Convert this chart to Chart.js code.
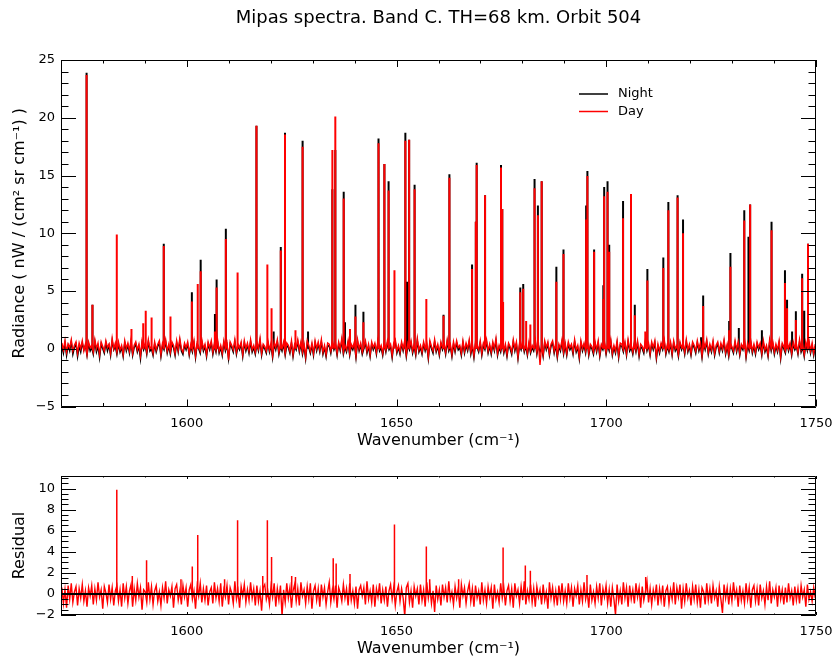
<!DOCTYPE html>
<html>
<head>
<meta charset="utf-8">
<script src="https://cdn.jsdelivr.net/npm/chart.js@4.4.1/dist/chart.umd.min.js"></script>
<style>
  html, body { margin: 0; padding: 0; background: #fff; }
  #wrap { position: relative; width: 832px; height: 660px; }
  canvas { position: absolute; left: 0; }
  #specCanvas { top: 0; }
  #resCanvas { top: 460px; }
</style>
</head>
<body>
<div id="wrap">
  <canvas id="specCanvas" width="832" height="460"></canvas>
  <canvas id="resCanvas" width="832" height="200"></canvas>
</div>
<script>
// Axis ranges and ticks
const xMin = 1570, xMax = 1750;
const xMajorTicks = [1600, 1650, 1700, 1750];
const specYTicks = [-5, 0, 5, 10, 15, 20, 25];
const resYTicks = [-2, 0, 2, 4, 6, 8, 10];

// Baseline noise, one value every 0.375 cm-1 starting at 1570.2
const noiseStart = 1570.2, noiseStep = 0.375;
const nightNoise = [
  0.2,-0.4,0.5,-0.6,0.3,-0.2,0.6,-0.5,0.1,0.4,-0.7,0.2,-0.3,0.5,-0.1,0.3,-0.6,0.4,-0.2,0.1,
  -0.5,0.6,-0.3,0.2,-0.8,0.4,0.0,-0.4,0.5,-0.2,0.3,-0.6,0.7,-0.1,0.2,-0.5,0.4,-0.3,0.1,-0.7,
  0.5,-0.2,0.3,-0.4,0.6,-0.6,0.1,0.4,-0.3,0.2,-0.9,0.5,-0.1,0.3,-0.5,0.6,-0.2,0.0,-0.6,0.4,
  -0.3,0.2,0.5,-0.7,0.3,-0.1,0.6,-0.4,0.2,-0.5,0.4,0.1,-0.6,0.5,-0.3,0.7,-0.2,-0.5,0.3,-0.1,
  0.4,-0.6,0.2,-0.3,0.5,-0.8,0.3,0.0,-0.4,0.6,-0.2,0.2,-0.7,0.4,-0.1,0.5,-0.5,0.3,-0.3,0.6,
  -0.4,0.1,-0.6,0.5,-0.2,0.3,-0.9,0.4,0.1,-0.3,0.6,-0.5,0.2,-0.1,0.4,-0.7,0.5,-0.2,0.3,-0.4,
  0.6,-0.3,0.1,-0.5,0.4,-0.2,0.7,-0.6,0.2,0.0,-0.4,0.5,-0.3,0.3,-0.8,0.4,-0.1,0.6,-0.5,0.2,
  -0.2,0.4,-0.6,0.3,0.1,-0.4,0.5,-0.7,0.2,-0.1,0.6,-0.3,0.4,-0.5,0.2,-0.9,0.5,0.1,-0.4,0.3,
  -0.6,0.5,-0.2,0.4,-0.3,0.6,-0.5,0.1,-0.7,0.3,0.2,-0.4,0.5,-0.1,0.3,-0.6,0.4,-0.2,0.7,-0.5,
  0.1,-0.3,0.5,-0.6,0.2,-0.1,0.4,-0.8,0.6,-0.2,0.3,-0.5,0.0,0.5,-0.4,0.2,-0.7,0.4,-0.1,0.3,
  -0.5,0.6,-0.2,0.1,-0.6,0.4,-0.3,0.5,-0.1,0.2,-0.8,0.3,0.6,-0.4,0.1,-0.5,0.4,-0.2,0.5,-0.7,
  0.3,-0.1,0.5,-0.4,0.2,-0.6,0.7,-0.3,0.1,-0.5,0.4,-0.2,0.3,-0.9,0.5,0.0,-0.4,0.6,-0.3,0.2,
  -0.6,0.4,-0.1,0.3,-0.5,0.6,-0.2,0.2,-0.7,0.4,-0.3,0.5,-0.1,0.1,-0.6,0.5,-0.4,0.3,-0.2,0.6,
  -0.5,0.2,-0.8,0.4,0.1,-0.3,0.5,-0.6,0.3,-0.1,0.6,-0.4,0.2,-0.5,0.4,-0.2,0.7,-0.6,0.1,-0.3,
  0.5,-0.4,0.2,-0.7,0.3,0.0,-0.5,0.6,-0.2,0.4,-0.9,0.3,-0.1,0.5,-0.3,0.2,-0.6,0.4,-0.4,0.1,
  -0.2,0.6,-0.5,0.3,-0.3,0.1,-0.7,0.5,-0.1,0.4,-0.6,0.2,0.5,-0.4,0.3,-0.8,0.2,-0.2,0.6,-0.5,
  0.3,-0.6,0.4,-0.1,0.2,-0.5,0.6,-0.3,0.1,-0.9,0.5,-0.2,0.3,-0.4,0.7,-0.6,0.2,0.0,-0.5,0.4,
  -0.3,0.5,-0.7,0.2,-0.1,0.4,-0.5,0.3,-0.2,0.6,-0.6,0.1,-0.4,0.5,-0.8,0.3,0.2,-0.3,0.4,-0.6,
  0.6,-0.2,0.1,-0.5,0.4,-0.3,0.5,-0.7,0.2,0.0,-0.4,0.6,-0.2,0.3,-0.6,0.4,-0.1,0.5,-0.9,0.2,
  -0.4,0.3,-0.1,0.6,-0.5,0.2,-0.3,0.4,-0.6,0.5,-0.2,0.1,-0.7,0.4,-0.1,0.3,-0.5,0.6,-0.3,0.2,
  -0.6,0.4,0.1,-0.4,0.5,-0.2,0.3,-0.8,0.4,-0.1,0.6,-0.5,0.2,-0.3,0.5,-0.6,0.1,0.4,-0.4,0.3,
  -0.2,0.6,-0.5,0.2,-0.7,0.3,0.0,-0.4,0.5,-0.3,0.4,-0.6,0.2,-0.1,0.6,-0.8,0.3,-0.2,0.5,-0.4,
  0.2,-0.5,0.4,-0.1,0.3,-0.6,0.5,-0.3,0.1,-0.7,0.6,-0.2,0.4,-0.5,0.2,-0.3,0.5,-0.9,0.3,0.0,
  -0.4,0.5,-0.2,0.3,-0.6,0.4,-0.1,0.2,-0.5,0.6,-0.3,0.1,-0.7,0.4,-0.2,0.5,-0.4,0.3,-0.6,0.2
];
const dayNoise = [
  0.5,-0.1,0.7,-0.3,0.4,0.1,0.8,-0.2,0.3,0.6,-0.4,0.5,0.0,0.7,-0.2,0.4,-0.5,0.6,0.1,0.3,
  -0.3,0.8,0.0,0.5,-0.5,0.6,0.2,-0.2,0.7,0.1,0.4,-0.4,0.9,0.0,0.5,-0.3,0.6,-0.1,0.3,-0.5,
  0.7,0.0,0.5,-0.2,0.8,-0.4,0.3,0.6,-0.1,0.4,-0.6,0.7,0.1,0.5,-0.3,0.8,0.0,0.2,-0.4,0.6,
  -0.1,0.4,0.7,-0.5,0.5,0.1,0.8,-0.2,0.4,-0.3,0.6,0.3,-0.4,0.7,-0.1,0.9,0.0,-0.3,0.5,0.1,
  0.6,-0.4,0.4,-0.1,0.7,-0.6,0.5,0.2,-0.2,0.8,0.0,0.4,-0.5,0.6,0.1,0.7,-0.3,0.5,-0.1,0.8,
  -0.2,0.3,-0.4,0.7,0.0,0.5,-1.0,0.6,0.3,-0.1,0.8,-0.3,0.4,0.1,0.6,-0.5,0.7,0.0,0.5,-0.2,
  0.8,-0.1,0.3,-0.3,0.6,0.0,0.9,-0.4,0.4,0.2,-0.2,0.7,-0.1,0.5,-0.6,0.6,0.1,0.8,-0.3,0.4,
  0.0,0.6,-0.4,0.5,0.3,-0.2,0.7,-0.5,0.4,0.1,0.8,-0.1,0.6,-0.3,0.4,-0.7,0.7,0.3,-0.2,0.5,
  -0.4,0.7,0.0,0.6,-0.1,0.8,-0.3,0.3,-0.5,0.5,0.4,-0.2,0.7,0.1,0.5,-0.4,0.6,0.0,0.9,-0.3,
  0.3,-0.1,0.7,-0.4,0.4,0.1,0.6,-0.6,0.8,0.0,0.5,-0.3,0.2,0.7,-0.2,0.4,-0.5,0.6,0.1,0.5,
  -0.3,0.8,0.0,0.3,-0.4,0.6,-0.1,0.7,0.1,0.4,-0.6,0.5,0.8,-0.2,0.3,-0.3,0.6,0.0,0.7,-0.5,
  0.5,0.1,0.7,-0.2,0.4,-0.4,0.9,-0.1,0.3,-0.3,0.6,0.0,0.5,-0.7,0.7,0.2,-0.2,0.8,-0.1,0.4,
  -0.4,0.6,0.1,0.5,-0.3,0.8,0.0,0.4,-0.5,0.6,-0.1,0.7,0.1,0.3,-0.4,0.7,-0.2,0.5,0.0,0.8,
  -0.3,0.4,-0.6,0.6,0.3,-0.1,0.7,-0.4,0.5,0.1,0.8,-0.2,0.4,-0.3,0.6,0.0,0.9,-0.4,0.3,-0.1,
  0.7,-0.2,0.4,-0.5,0.5,0.2,-0.3,0.8,0.0,0.6,-0.7,0.5,0.1,0.7,-0.1,0.4,-0.4,0.6,-0.2,0.3,
  0.0,0.8,-0.3,0.5,-1.4,0.3,-0.5,0.7,0.1,0.6,-0.4,0.4,0.7,-0.2,0.5,-0.6,0.4,0.0,0.8,-0.3,
  0.5,-0.4,0.6,0.1,0.4,-0.3,0.8,-0.1,0.3,-0.7,0.7,0.0,0.5,-0.2,0.9,-0.4,0.4,0.2,-0.3,0.6,
  -0.1,0.7,-0.5,0.4,0.1,0.6,-0.3,0.5,0.0,0.8,-0.4,0.3,-0.2,0.7,-0.6,0.5,0.4,-0.1,0.6,-0.4,
  0.8,0.0,0.3,-0.3,0.6,-0.1,0.7,-0.5,0.4,0.2,-0.2,0.8,0.0,0.5,-0.4,0.6,0.1,0.7,-0.7,0.4,
  -0.2,0.5,0.1,0.8,-0.3,0.4,-0.1,0.6,-0.4,0.7,0.0,0.3,-0.5,0.6,0.1,0.5,-0.3,0.8,-0.1,0.4,
  -0.4,0.6,0.3,-0.2,0.7,0.0,0.5,-0.6,0.6,0.1,0.8,-0.3,0.4,-0.1,0.7,-0.4,0.3,0.6,-0.2,0.5,
  0.0,0.8,-0.3,0.4,-0.5,0.5,0.2,-0.2,0.7,-0.1,0.6,-0.4,0.4,0.1,0.8,-0.6,0.5,0.0,0.7,-0.2,
  0.4,-0.3,0.6,0.1,0.5,-0.4,0.7,-0.1,0.3,-0.5,0.8,0.0,0.6,-0.3,0.4,-0.1,0.7,-0.7,0.5,0.2,
  -0.2,0.7,0.0,0.5,-0.4,0.6,0.1,0.4,-0.3,0.8,-0.1,0.3,-0.5,0.6,0.0,0.7,-0.2,0.5,-0.4,0.4
];
const residualNoise = [
  0.6,-0.9,0.4,-1.3,0.8,-0.5,1.0,-0.8,0.2,0.7,-1.1,0.5,-0.4,0.9,-0.7,0.3,-1.2,0.6,-0.2,0.8,
  -1.0,0.5,-0.6,1.1,-0.3,0.4,-1.4,0.7,0.1,-0.8,0.9,-0.5,0.6,-1.1,0.3,0.8,-0.7,0.4,-1.2,1.0,
  -0.4,0.7,-0.9,0.3,0.9,-1.2,0.5,-0.6,1.0,-0.3,0.6,-1.5,0.4,0.2,-0.8,1.1,-0.5,0.7,-1.0,0.3,
  0.8,-0.7,0.2,-1.1,0.6,-0.4,1.2,-0.9,0.4,-0.2,0.7,-1.3,0.5,0.9,-0.6,0.3,-1.0,0.8,-0.3,0.6,
  -1.2,0.4,0.9,-0.5,0.3,-1.4,0.7,-0.2,1.0,-0.8,0.5,-0.6,0.8,-1.1,0.2,0.6,-0.9,1.1,-0.4,0.5,
  -0.7,1.0,-1.2,0.4,-0.3,0.8,-1.0,0.6,0.1,-0.9,1.2,-0.5,0.3,-1.3,0.7,-0.2,0.9,-0.8,0.4,-0.6,
  1.1,-0.4,0.5,-1.1,0.8,-0.7,0.3,-1.6,0.6,0.9,-0.5,0.2,-1.0,0.7,-0.3,1.0,-1.2,0.5,-0.6,0.8,
  -2.1,0.4,-0.8,1.0,-0.4,0.6,-1.3,0.3,0.9,-0.7,0.5,-1.1,1.1,-0.2,0.4,-0.9,0.7,-0.5,1.0,-1.4,
  0.3,0.8,-0.6,0.5,-1.2,0.9,-0.3,0.6,-1.0,0.2,1.1,-0.8,0.4,-0.5,0.8,-1.3,0.6,0.1,-0.7,0.9,
  -0.4,0.5,-1.1,1.0,-0.6,0.3,-0.9,0.7,-1.4,0.4,0.8,-0.2,0.6,-1.0,1.2,-0.5,0.3,-0.8,0.9,-1.2,
  0.5,-0.3,1.0,-0.9,0.4,-0.6,0.7,-1.2,0.3,0.9,-0.5,0.6,-1.1,0.2,0.8,-0.7,0.5,-0.4,-2.1,0.6,
  1.0,-0.8,0.3,-1.3,0.7,-0.2,0.5,-1.0,0.9,-0.6,0.4,-1.2,1.1,-0.4,0.6,-0.9,0.3,-1.7,0.8,-0.5,
  0.4,-1.1,0.9,-0.3,0.6,-0.8,1.2,-0.5,0.2,-1.0,0.7,-0.4,0.5,-1.3,0.9,-0.2,0.6,-0.9,0.3,1.0,
  -0.7,0.5,-1.2,0.8,-0.4,0.3,-1.0,1.1,-0.6,0.4,-0.9,0.7,-0.3,0.6,-1.4,0.9,-0.5,0.2,-0.8,1.0,
  -0.4,0.6,-1.1,0.3,0.8,-0.7,0.5,-1.3,1.0,-0.2,0.4,-0.9,0.7,-0.6,1.2,-1.0,0.3,-0.5,0.9,-0.8,
  0.5,-1.2,0.7,-0.3,0.4,-1.0,0.9,-0.6,0.2,-1.4,1.1,-0.4,0.6,-0.8,0.3,-1.1,0.8,-0.5,1.0,-0.7,
  0.3,-0.9,1.0,-0.4,0.6,-1.2,0.5,-0.2,0.8,-1.0,0.4,-0.7,1.1,-0.5,0.3,-1.3,0.9,-0.6,0.2,-0.9,
  0.7,-0.4,1.0,-1.1,0.5,-0.3,0.8,-0.9,0.4,-1.2,0.6,-0.5,-2.0,0.9,-0.7,0.3,-1.0,1.1,-0.4,0.6,
  -1.2,0.8,-0.5,0.4,-0.9,1.0,-0.3,0.6,-1.3,0.7,-0.6,0.2,1.2,-0.8,0.5,-1.0,0.4,-0.4,0.9,-1.1,
  0.5,-0.6,0.8,-1.2,0.3,0.7,-0.9,0.4,-0.5,1.1,-1.0,0.6,-0.3,0.9,-1.4,0.5,-0.7,1.0,-0.4,0.3,
  -1.1,0.7,-0.5,0.9,-0.8,0.4,-1.3,0.6,0.2,-1.0,1.0,-0.6,0.5,-0.9,0.8,-0.4,0.3,-1.2,0.7,-0.5,
  -1.8,0.9,-0.4,0.6,-1.0,0.5,-0.7,1.1,-0.3,0.4,-1.2,0.8,-0.6,0.3,-0.9,1.0,-0.5,0.6,-1.3,0.4,
  0.8,-0.7,0.5,-1.1,0.9,-0.4,0.3,-1.0,0.7,-0.6,1.2,-0.9,0.4,-0.3,0.6,-1.2,0.8,-0.5,0.4,-1.0,
  0.6,-0.8,1.0,-0.4,0.3,-1.1,0.7,-0.6,0.5,-0.9,0.8,-0.3,0.4,-1.2,0.9,-0.5,0.2,-0.7,0.6,-0.4
];

// Emission lines: [wavenumber, peak radiance]
const nightLines = [
  [1576.1,23.9],[1577.5,3.8],[1594.5,9.1],[1601.2,4.9],[1603.3,7.7],[1606.7,3.0],[1607.1,6.0],
  [1609.3,10.4],[1616.6,19.3],[1620.7,1.5],[1622.4,8.8],[1623.4,18.7],[1627.6,18.0],[1628.9,1.5],
  [1634.7,13.8],[1635.4,17.2],[1637.4,13.6],[1637.7,2.3],[1640.2,3.8],[1642.1,3.2],[1645.7,18.2],
  [1647.1,16.0],[1648.1,14.5],[1652.1,18.7],[1652.5,5.8],[1653.0,18.1],[1654.3,14.2],[1661.2,2.95],
  [1662.6,15.1],[1668.0,7.3],[1668.9,11.0],[1669.1,16.1],[1671.1,13.3],[1674.9,15.9],[1675.2,12.1],
  [1679.5,5.3],[1680.2,5.6],[1682.9,14.7],[1683.7,12.4],[1684.6,14.5],[1688.1,7.1],[1689.8,8.6],
  [1695.2,12.4],[1695.5,15.4],[1697.1,8.6],[1699.3,5.5],[1699.5,14.0],[1700.3,14.5],[1700.7,9.0],
  [1704.0,12.8],[1705.9,13.4],[1706.8,3.8],[1709.8,6.9],[1713.6,7.9],[1714.8,12.7],[1717.0,13.3],
  [1718.3,11.2],[1722.6,1.0],[1723.1,4.6],[1729.3,2.4],[1729.6,8.3],[1731.6,1.8],[1732.9,12.0],
  [1733.9,9.7],[1734.3,12.5],[1737.1,1.6],[1739.4,11.0],[1742.6,6.8],[1743.1,4.25],[1744.3,1.5],
  [1745.2,3.25],[1746.7,6.5],[1747.2,3.3],[1748.1,9.1]
];
const dayLines = [
  [1576.1,23.7],[1577.5,3.8],[1583.3,9.9],[1586.8,1.7],[1589.6,2.2],[1590.2,3.3],[1591.6,2.7],
  [1594.5,8.9],[1596.1,2.8],[1601.2,4.1],[1602.6,5.6],[1603.3,6.7],[1606.7,1.5],[1607.1,5.3],
  [1609.3,9.5],[1612.1,6.6],[1616.6,19.3],[1619.2,7.3],[1620.2,3.5],[1622.4,8.5],[1623.4,18.55],
  [1625.9,1.6],[1627.6,17.5],[1634.7,17.2],[1635.4,20.1],[1637.4,13.0],[1638.9,1.7],[1640.2,2.8],
  [1642.1,2.3],[1645.7,17.8],[1647.1,16.0],[1648.1,13.7],[1649.5,6.8],[1652.1,18.0],[1653.0,18.1],
  [1654.3,13.8],[1657.1,4.3],[1661.2,2.85],[1662.6,14.8],[1668.0,6.9],[1668.9,11.0],[1669.1,15.9],
  [1671.1,13.3],[1674.9,15.7],[1675.2,12.1],[1675.4,4.05],[1679.5,4.9],[1680.2,5.2],[1680.9,2.4],
  [1681.9,2.1],[1682.9,13.9],[1683.7,11.55],[1684.6,14.5],[1688.1,5.8],[1689.8,8.2],[1695.2,11.2],
  [1695.5,14.95],[1697.1,8.4],[1699.3,4.3],[1699.5,13.2],[1700.3,13.6],[1700.7,8.4],[1704.0,11.3],
  [1705.9,13.4],[1706.8,2.9],[1709.3,1.5],[1709.8,5.9],[1713.6,7.0],[1714.8,12.0],[1717.0,13.1],
  [1718.3,10.0],[1723.1,3.7],[1729.3,1.6],[1729.6,7.1],[1732.9,11.1],[1734.3,12.5],[1739.4,10.25],
  [1742.6,5.7],[1743.1,3.5],[1745.2,2.5],[1746.7,6.1],[1748.1,9.1]
];
const residualLines = [
  [1583.3,9.9],[1587.0,1.7],[1590.4,3.2],[1598.6,1.4],[1601.3,2.6],[1602.6,5.6],[1609.0,1.4],
  [1612.1,7.0],[1618.1,1.7],[1619.2,7.0],[1620.2,3.5],[1625.0,1.7],[1625.9,1.6],[1634.9,3.4],
  [1635.6,2.9],[1638.9,1.9],[1649.5,6.6],[1657.1,4.5],[1657.9,1.4],[1664.8,1.4],[1675.4,4.4],
  [1680.7,2.7],[1681.9,2.2],[1695.4,1.8],[1709.4,1.6]
];
const zeroLine = [[xMin, 0], [xMax, 0]];

Chart.defaults.font.family = "'DejaVu Sans', sans-serif";
Chart.defaults.color = '#000';

// noise values onto the wavenumber grid
function noiseSeries(vals) {
  return vals.map((v, i) => ({x: noiseStart + i * noiseStep, y: v}));
}

// each line is a vertical stroke from zero up to its peak
function lineSeries(lines) {
  const pts = [];
  lines.forEach(l => {
    pts.push({x: l[0], y: 0}, {x: l[0], y: l[1]}, {x: l[0], y: null});
  });
  return pts;
}

function plainLabel(v) {
  return String(v).replace('-', '\u2212');
}

// box round the plot with IDL style ticks pointing inwards
function frameTicks(yMajor, yMinorStep, xLen, yLen) {
  return {
    id: 'frameTicks',
    afterDatasetsDraw(chart) {
      const {ctx, chartArea: a, scales} = chart;
      const xs = scales.x, ys = scales.y;
      ctx.save();
      ctx.strokeStyle = '#000';
      ctx.lineWidth = 1;
      ctx.beginPath();
      for (let v = xMin; v <= xMax; v += 10) {
        const px = Math.round(xs.getPixelForValue(v)) + 0.5;
        const len = xMajorTicks.includes(v) ? xLen : xLen / 2;
        ctx.moveTo(px, a.bottom); ctx.lineTo(px, a.bottom - len);
        ctx.moveTo(px, a.top); ctx.lineTo(px, a.top + len);
      }
      const n = Math.floor((ys.max - ys.min) / yMinorStep + 1e-6);
      for (let i = 0; i <= n; i++) {
        const v = ys.min + i * yMinorStep;
        const py = Math.round(ys.getPixelForValue(v)) + 0.5;
        const major = yMajor.some(t => Math.abs(t - v) < 1e-6);
        const len = major ? yLen : yLen / 2;
        ctx.moveTo(a.left, py); ctx.lineTo(a.left + len, py);
        ctx.moveTo(a.right, py); ctx.lineTo(a.right - len, py);
      }
      ctx.rect(Math.round(a.left) + 0.5, Math.round(a.top) + 0.5,
               Math.round(a.width) - 1, Math.round(a.height) - 1);
      ctx.stroke();
      ctx.restore();
    }
  };
}

const legendBox = {
  id: 'legendBox',
  afterDraw(chart) {
    const ctx = chart.ctx;
    const items = [['Night', '#000000', 94], ['Day', '#ff0000', 111.5]];
    ctx.save();
    ctx.font = "13px 'DejaVu Sans', sans-serif";
    ctx.textBaseline = 'middle';
    items.forEach(it => {
      ctx.strokeStyle = it[1];
      ctx.lineWidth = 1.5;
      ctx.beginPath();
      ctx.moveTo(579, it[2]); ctx.lineTo(608, it[2]);
      ctx.stroke();
      ctx.fillStyle = '#000';
      ctx.fillText(it[0], 618, it[2]);
    });
    ctx.restore();
  }
};

function xScale(height) {
  return {
    type: 'linear', min: xMin, max: xMax,
    grid: {display: false, drawTicks: false},
    border: {display: false},
    ticks: {font: {size: 13}, padding: 9, autoSkip: false, maxRotation: 0, callback: plainLabel},
    afterBuildTicks: s => { s.ticks = xMajorTicks.map(v => ({value: v})); },
    afterFit: s => { s.height = height; s.paddingLeft = 0; s.paddingRight = 0; },
    title: {display: true, text: 'Wavenumber (cm\u207B\u00B9)', font: {size: 16},
            padding: {top: 0, bottom: height > 50 ? 10 : 2}}
  };
}

function yScale(min, max, ticks, label) {
  return {
    min: min, max: max,
    grid: {display: false, drawTicks: false},
    border: {display: false},
    ticks: {font: {size: 13}, padding: 6, autoSkip: false, callback: plainLabel},
    afterBuildTicks: s => { s.ticks = ticks.map(v => ({value: v})); },
    afterFit: s => { s.width = 61; s.paddingTop = 0; s.paddingBottom = 0; },
    title: {display: true, text: label, font: {size: 16}, padding: {top: 10, bottom: 0}}
  };
}

const lineStyle = {pointRadius: 0, tension: 0, spanGaps: false, fill: false};

new Chart(document.getElementById('specCanvas'), {
  type: 'line',
  data: {
    datasets: [
      Object.assign({label: 'Day', data: noiseSeries(dayNoise), borderColor: '#ff0000',
        borderWidth: 1.4, order: 0}, lineStyle),
      Object.assign({label: 'Day lines', data: lineSeries(dayLines), borderColor: '#ff0000',
        borderWidth: 2, order: 1}, lineStyle),
      Object.assign({label: 'Night', data: noiseSeries(nightNoise), borderColor: '#000000',
        borderWidth: 1.4, order: 2}, lineStyle),
      Object.assign({label: 'Night lines', data: lineSeries(nightLines), borderColor: '#000000',
        borderWidth: 2, order: 3}, lineStyle)
    ]
  },
  options: {
    responsive: false, animation: false, devicePixelRatio: 1,
    layout: {padding: {left: 0, right: 16, top: 0, bottom: 0}},
    plugins: {
      legend: {display: false}, tooltip: {enabled: false},
      title: {display: true, fullSize: false, text: 'Mipas spectra. Band C. TH=68 km. Orbit 504',
              font: {size: 18, weight: 'normal'}, color: '#000', padding: {top: 8, bottom: 30.4}}
    },
    scales: {
      x: xScale(53.5),
      y: yScale(-5, 25, specYTicks, 'Radiance ( nW / (cm\u00B2 sr cm\u207B\u00B9) )')
    }
  },
  plugins: [frameTicks(specYTicks, 1, 7, 15), legendBox]
});

new Chart(document.getElementById('resCanvas'), {
  type: 'line',
  data: {
    datasets: [
      Object.assign({label: 'Zero', data: zeroLine.map(p => ({x: p[0], y: p[1]})),
        borderColor: '#000000', borderWidth: 2, order: 0}, lineStyle),
      Object.assign({label: 'Residual lines', data: lineSeries(residualLines), borderColor: '#ff0000',
        borderWidth: 1.5, order: 1}, lineStyle),
      Object.assign({label: 'Residual', data: noiseSeries(residualNoise), borderColor: '#ff0000',
        borderWidth: 1.4, order: 2}, lineStyle)
    ]
  },
  options: {
    responsive: false, animation: false, devicePixelRatio: 1,
    layout: {padding: {left: 0, right: 16, top: 16, bottom: 0}},
    plugins: {legend: {display: false}, tooltip: {enabled: false}},
    scales: {
      x: xScale(45),
      y: yScale(-2, 11.2, resYTicks, 'Residual')
    }
  },
  plugins: [frameTicks(resYTicks, 0.5, 3, 15)]
});
</script>
</body>
</html>
